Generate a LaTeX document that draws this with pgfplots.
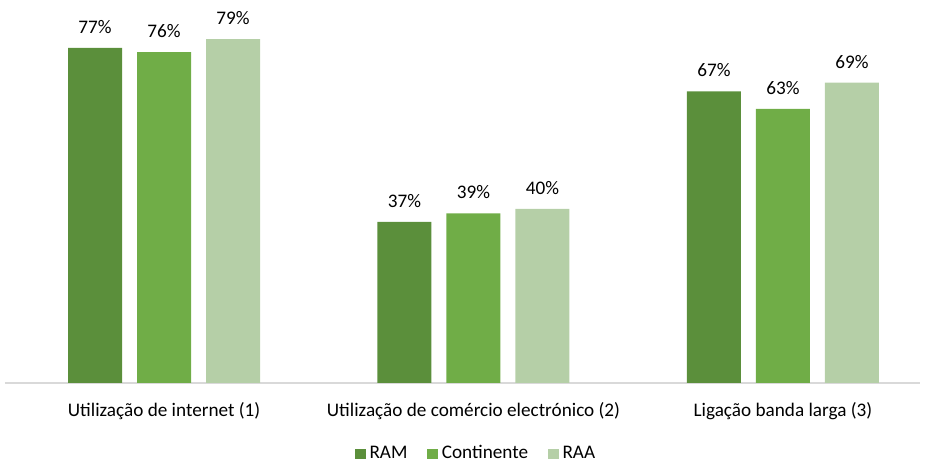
\documentclass[border=0pt]{standalone}
\usepackage{pgfplots}
\pgfplotsset{compat=1.18}
\usepackage{fontspec}
\setmainfont{Carlito}
\definecolor{cRAM}{HTML}{5B8F3B}
\definecolor{cCont}{HTML}{70AD47}
\definecolor{cRAA}{HTML}{B5CFA7}
\definecolor{axgray}{HTML}{D9D9D9}
\begin{document}
\begin{tikzpicture}
\begin{axis}[
  scale only axis,
  width=457.5pt, height=191.5pt,
  ybar=7.5pt, bar width=27pt,
  xmin=-0.514, xmax=2.443,
  ymin=0, ymax=88,
  axis y line=none,
  axis x line*=bottom,
  x axis line style={-, draw=axgray, line width=0.9pt},
  xtick={0,1,2},
  xticklabels={Utilização de internet (1),Utilização de comércio electrónico (2),Ligação banda larga (3)},
  major tick length=0pt,
  xticklabel style={inner sep=0pt, yshift=-9.5pt, font=\fontsize{9.6}{11}\selectfont},
  /pgf/number format/assume math mode=true,
  nodes near coords={\pgfmathprintnumber{\pgfplotspointmeta}\%},
  every node near coord/.append style={anchor=south, inner sep=0pt, yshift=7pt, font=\fontsize{9.6}{11}\selectfont, text=black},
  clip=false,
  legend columns=3,
  legend style={at={(0.516,-0.185)}, anchor=center, draw=none, fill=none,
    font=\fontsize{9.6}{11}\selectfont,
    /tikz/every even column/.append style={column sep=8pt},
    /tikz/every odd column/.append style={column sep=0pt}},
  legend image code/.code={\fill[#1] (0pt,-2.6pt) rectangle (5.2pt,2.6pt);},
]
\addplot[fill=cRAM, draw=none] coordinates {(0,77) (1,37) (2,67)};
\addplot[fill=cCont, draw=none] coordinates {(0,76) (1,39) (2,63)};
\addplot[fill=cRAA, draw=none] coordinates {(0,79) (1,40) (2,69)};
\legend{RAM,Continente,RAA}
\path (rel axis cs:-0.00546,-0.201) rectangle (rel axis cs:1.00546,1);
\end{axis}
\end{tikzpicture}
\end{document}
